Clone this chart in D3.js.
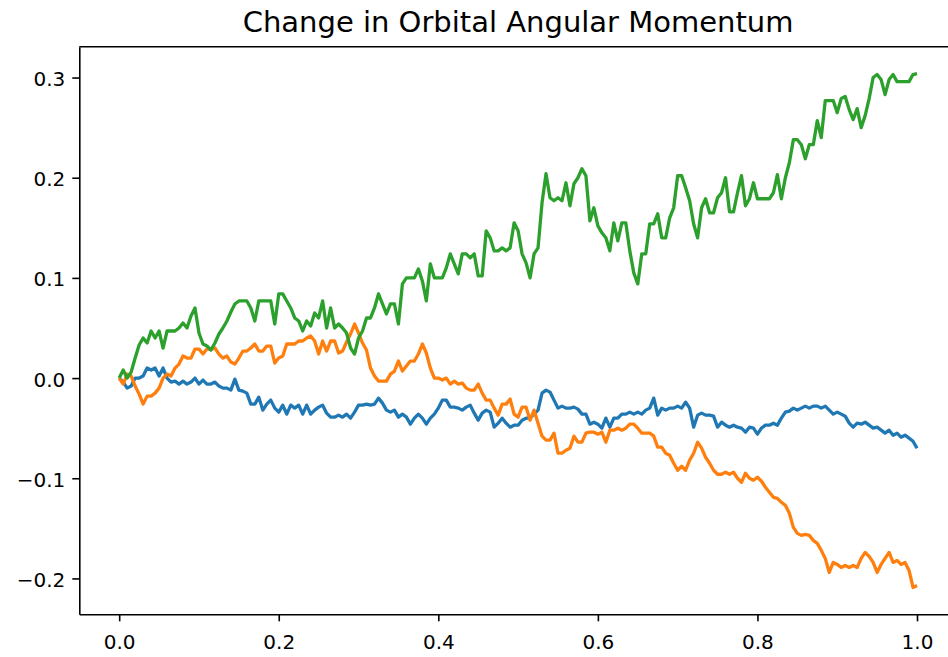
<!DOCTYPE html>
<html>
<head>
<meta charset="utf-8">
<script src="https://cdn.jsdelivr.net/npm/d3@7"></script>
<style>
  body { margin: 0; background: #fff; }
  svg { display: block; font-family: 'DejaVu Sans', sans-serif; }
</style>
</head>
<body>
<svg></svg>
<script>
// values, one every 0.005 along x (0 .. 1)
let blueValues = [
  0, -0.004, -0.01, -0.008, 0, 0, 0.002, 0.01, 0.008, 0.01,
  0.002, 0.01, 0, -0.004, -0.003, -0.006, -0.003, -0.006, -0.004, 0,
  -0.006, -0.002, -0.006, -0.006, -0.004, -0.008, -0.01, -0.01, -0.012, -0.001,
  -0.012, -0.013, -0.015, -0.026, -0.026, -0.019, -0.032, -0.026, -0.022, -0.03,
  -0.034, -0.027, -0.036, -0.027, -0.03, -0.027, -0.036, -0.027, -0.036, -0.032,
  -0.029, -0.027, -0.035, -0.039, -0.039, -0.037, -0.039, -0.036, -0.04, -0.034,
  -0.027, -0.027, -0.026, -0.027, -0.026, -0.02, -0.025, -0.032, -0.034, -0.032,
  -0.039, -0.036, -0.039, -0.046, -0.04, -0.036, -0.04, -0.046, -0.04, -0.036,
  -0.03, -0.022, -0.022, -0.029, -0.029, -0.03, -0.032, -0.029, -0.027, -0.035,
  -0.042, -0.035, -0.032, -0.034, -0.049, -0.045, -0.04, -0.045, -0.049, -0.047,
  -0.047, -0.042, -0.04, -0.04, -0.036, -0.032, -0.015, -0.012, -0.014, -0.022,
  -0.03, -0.028, -0.03, -0.03, -0.029, -0.031, -0.036, -0.036, -0.046, -0.044,
  -0.046, -0.05, -0.04, -0.049, -0.04, -0.04, -0.036, -0.036, -0.034, -0.036,
  -0.034, -0.036, -0.032, -0.03, -0.02, -0.037, -0.03, -0.032, -0.03, -0.03,
  -0.028, -0.03, -0.024, -0.03, -0.049, -0.037, -0.035, -0.037, -0.037, -0.038,
  -0.049, -0.044, -0.047, -0.049, -0.047, -0.049, -0.05, -0.054, -0.049, -0.05,
  -0.056, -0.05, -0.047, -0.047, -0.045, -0.047, -0.04, -0.034, -0.033, -0.03,
  -0.032, -0.03, -0.028, -0.03, -0.028, -0.028, -0.03, -0.028, -0.032, -0.036,
  -0.034, -0.036, -0.038, -0.045, -0.049, -0.045, -0.046, -0.044, -0.047, -0.05,
  -0.049, -0.052, -0.055, -0.052, -0.057, -0.055, -0.059, -0.057, -0.06, -0.063,
  -0.07
]

let orangeValues = [
  0, -0.006, 0.004, 0.002, -0.008, -0.016, -0.026, -0.018, -0.018, -0.015,
  -0.01, 0, 0.004, 0.002, 0.01, 0.014, 0.022, 0.02, 0.02, 0.029,
  0.029, 0.024, 0.029, 0.029, 0.03, 0.024, 0.02, 0.022, 0.016, 0.014,
  0.02, 0.027, 0.027, 0.03, 0.034, 0.027, 0.027, 0.032, 0.032, 0.015,
  0.02, 0.022, 0.034, 0.034, 0.034, 0.037, 0.037, 0.04, 0.042, 0.037,
  0.024, 0.037, 0.027, 0.037, 0.037, 0.025, 0.027, 0.036, 0.044, 0.054,
  0.045, 0.035, 0.028, 0.01, 0.002, -0.003, -0.003, -0.003, 0.004, 0.007,
  0.017, 0.007, 0.012, 0.017, 0.017, 0.024, 0.034, 0.025, 0.01, 0,
  0, -0.002, 0, -0.006, -0.003, -0.006, -0.005, -0.01, -0.012, -0.012,
  -0.006, -0.015, -0.022, -0.022, -0.03, -0.037, -0.026, -0.026, -0.021, -0.036,
  -0.039, -0.029, -0.029, -0.042, -0.032, -0.045, -0.058, -0.062, -0.062, -0.055,
  -0.075, -0.075, -0.072, -0.07, -0.058, -0.064, -0.064, -0.055, -0.054, -0.054,
  -0.056, -0.054, -0.064, -0.052, -0.052, -0.05, -0.052, -0.05, -0.046, -0.046,
  -0.05, -0.055, -0.055, -0.055, -0.058, -0.069, -0.069, -0.075, -0.077, -0.085,
  -0.092, -0.088, -0.092, -0.082, -0.075, -0.064, -0.07, -0.079, -0.085, -0.092,
  -0.096, -0.096, -0.094, -0.096, -0.094, -0.1, -0.104, -0.095, -0.1, -0.102,
  -0.099, -0.103, -0.109, -0.114, -0.119, -0.12, -0.124, -0.127, -0.135, -0.149,
  -0.155, -0.157, -0.156, -0.157, -0.162, -0.165, -0.172, -0.18, -0.194, -0.184,
  -0.186, -0.189, -0.187, -0.189, -0.187, -0.189, -0.18, -0.174, -0.178, -0.184,
  -0.194, -0.186, -0.18, -0.174, -0.184, -0.182, -0.186, -0.184, -0.192, -0.209,
  -0.207
]

let greenValues = [
  0, 0.008, 0, 0.006, 0.02, 0.033, 0.04, 0.035, 0.047, 0.04,
  0.047, 0.03, 0.047, 0.047, 0.047, 0.05, 0.055, 0.05, 0.062, 0.07,
  0.045, 0.034, 0.032, 0.028, 0.035, 0.044, 0.05, 0.057, 0.066, 0.074,
  0.077, 0.077, 0.077, 0.07, 0.057, 0.077, 0.077, 0.077, 0.077, 0.054,
  0.084, 0.084, 0.077, 0.07, 0.06, 0.057, 0.047, 0.057, 0.052, 0.065,
  0.06, 0.077, 0.05, 0.07, 0.05, 0.054, 0.05, 0.045, 0.03, 0.024,
  0.04, 0.047, 0.06, 0.06, 0.07, 0.084, 0.074, 0.064, 0.074, 0.074,
  0.054, 0.094, 0.1, 0.1, 0.1, 0.109, 0.097, 0.077, 0.114, 0.1,
  0.1, 0.1, 0.11, 0.124, 0.114, 0.104, 0.124, 0.124, 0.12, 0.124,
  0.102, 0.102, 0.147, 0.14, 0.127, 0.127, 0.13, 0.127, 0.13, 0.155,
  0.147, 0.124, 0.115, 0.1, 0.124, 0.13, 0.175, 0.204, 0.18, 0.177,
  0.18, 0.177, 0.195, 0.172, 0.194, 0.2, 0.209, 0.202, 0.157, 0.17,
  0.152, 0.145, 0.14, 0.127, 0.155, 0.137, 0.155, 0.155, 0.127, 0.105,
  0.094, 0.124, 0.124, 0.154, 0.154, 0.164, 0.14, 0.14, 0.16, 0.17,
  0.202, 0.202, 0.19, 0.177, 0.154, 0.14, 0.17, 0.179, 0.165, 0.165,
  0.18, 0.185, 0.2, 0.166, 0.166, 0.185, 0.202, 0.172, 0.179, 0.195,
  0.179, 0.179, 0.179, 0.179, 0.185, 0.203, 0.179, 0.2, 0.215, 0.238,
  0.238, 0.233, 0.219, 0.233, 0.233, 0.257, 0.24, 0.277, 0.277, 0.277,
  0.265, 0.279, 0.281, 0.268, 0.258, 0.269, 0.25, 0.262, 0.279, 0.3,
  0.303, 0.298, 0.283, 0.298, 0.303, 0.296, 0.296, 0.296, 0.296, 0.303,
  0.304
]

let seriesColors = ['#1f77b4', '#ff7f0e', '#2ca02c']
let xTicks = [0, 0.2, 0.4, 0.6, 0.8, 1.0]
let yTicks = [-0.2, -0.1, 0, 0.1, 0.2, 0.3]
let titleText = 'Change in Orbital Angular Momentum'

let xStart = 0
let xEnd = 1
let xLimits = [-0.05, 1.05]
let yLimits = [-0.2358, 0.3308]

let width = 948
let height = 657
let plotLeft = 79.3
let plotRight = 956.9
let plotTop = 46.7
let plotBottom = 614.3

let svg = d3.select('svg')
    .attr('width', width)
    .attr('height', height)

let xScale = d3.scaleLinear().domain(xLimits).range([plotLeft, plotRight])
let yScale = d3.scaleLinear().domain(yLimits).range([plotBottom, plotTop])

let fmt = (v) => d3.format('.1f')(v).replace('-', '\u2212')

let drawLines = () => {
    let allSeries = [blueValues, orangeValues, greenValues]
    allSeries.forEach((values, i) => {
        let step = d3.scaleLinear().domain([0, values.length - 1]).range([xStart, xEnd])
        let line = d3.line()
            .x((d, j) => xScale(step(j)))
            .y((d) => yScale(d))
        svg.append('path')
            .datum(values)
            .attr('d', line)
            .attr('fill', 'none')
            .attr('stroke', seriesColors[i])
            .attr('stroke-width', 3.3)
            .attr('stroke-linejoin', 'round')
    })
}

let drawAxes = () => {
    let xAxis = d3.axisBottom(xScale)
        .tickValues(xTicks)
        .tickFormat(fmt)
        .tickSize(7)
        .tickSizeOuter(0)
    let yAxis = d3.axisLeft(yScale)
        .tickValues(yTicks)
        .tickFormat(fmt)
        .tickSize(7)
        .tickPadding(7)
        .tickSizeOuter(0)

    let gx = svg.append('g')
        .attr('transform', 'translate(0, ' + plotBottom + ')')
        .call(xAxis)
    gx.selectAll('text').attr('y', 14).attr('dy', '1.03em')

    let gy = svg.append('g')
        .attr('transform', 'translate(' + plotLeft + ', 0)')
        .call(yAxis)
    gy.selectAll('text').attr('dy', '0.4em')

    svg.selectAll('.domain, .tick line')
        .attr('stroke', '#000')
        .attr('stroke-width', 1.6)
    svg.selectAll('.tick text')
        .attr('fill', '#000')
        .style('font-size', '20px')
        .style('font-family', "'DejaVu Sans', sans-serif")

    // top spine
    svg.append('line')
        .attr('x1', plotLeft).attr('x2', plotRight)
        .attr('y1', plotTop).attr('y2', plotTop)
        .attr('stroke', '#000')
        .attr('stroke-width', 1.6)
}

let drawTitle = () => {
    svg.append('text')
        .attr('x', (plotLeft + plotRight) / 2)
        .attr('y', 32)
        .attr('text-anchor', 'middle')
        .style('font-size', '29px')
        .text(titleText)
}

drawLines()
drawAxes()
drawTitle()
</script>
</body>
</html>
